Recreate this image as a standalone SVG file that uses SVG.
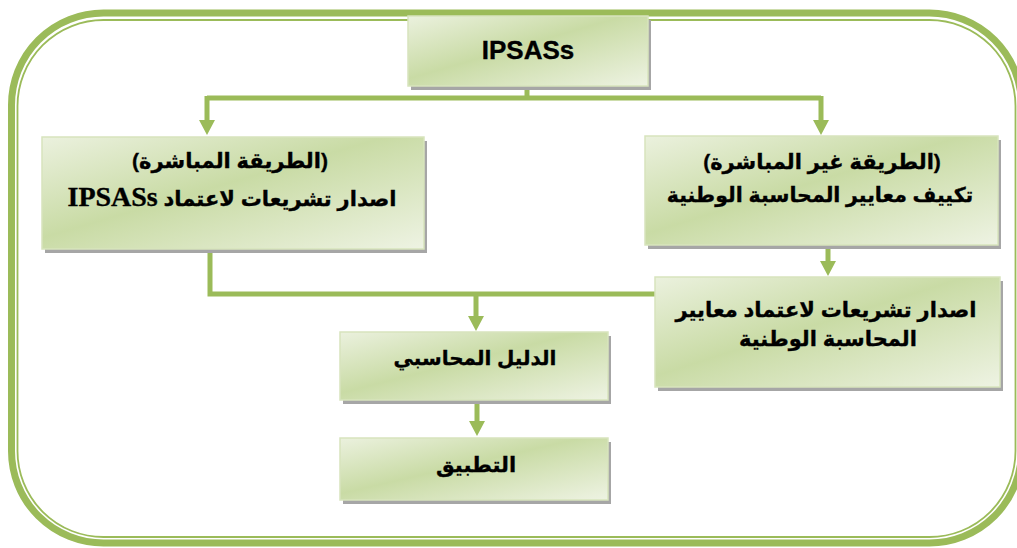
<svg xmlns="http://www.w3.org/2000/svg" width="1017" height="548" viewBox="0 0 1017 548">
<defs>
<linearGradient id="g" x1="0" y1="0" x2="1" y2="1">
<stop offset="0" stop-color="#ebf1de"/>
<stop offset="0.45" stop-color="#c9dba5"/>
<stop offset="1" stop-color="#eef3e3"/>
</linearGradient>
</defs>
<style>
.frame{fill:none;stroke:#9bbb59}
.box{fill:url(#g);stroke:#d7e4bd;stroke-width:1.5}
.sh{fill:#a6a6a6}
.ln{fill:none;stroke:#9bbb59;stroke-width:5}
.hd{fill:#9bbb59}
.t{font-family:"Liberation Sans","DejaVu Sans",sans-serif;font-weight:bold;font-size:21px;fill:#000;stroke:#000;stroke-width:0.35;text-anchor:middle}
.lat{font-family:"Liberation Serif",serif;font-size:28px}
</style>
<g id="frame">
<rect class="frame" x="11.5" y="13" width="1010" height="530" rx="92" stroke-width="7"/>
<rect class="frame" x="17.5" y="20" width="998" height="517" rx="86" stroke-width="1.8"/>
</g>
<g id="connectors">
<path class="ln" d="M527 86 V98 M207 98 H821 M207 96 V122 M821 96 V122"/>
<polygon class="hd" points="199,120 215,120 207,135"/>
<polygon class="hd" points="813,120 829,120 821,135"/>
<path class="ln" d="M210 250 V294 H657 M476 292 V318"/>
<polygon class="hd" points="468,316 484,316 476,331"/>
<path class="ln" d="M828 245 V263"/>
<polygon class="hd" points="820,261 836,261 828,276"/>
<path class="ln" d="M477 400 V423"/>
<polygon class="hd" points="469,421 485,421 477,436"/>
</g>
<g id="n-ipsass">
<rect class="sh" x="411" y="20" width="240" height="70"/>
<rect class="box" x="408" y="16" width="240" height="70"/>
<text class="t" x="528" y="59" style="font-size:26px">IPSASs</text>
</g>
<g id="n-direct">
<rect class="sh" x="45" y="141" width="382" height="112"/>
<rect class="box" x="42" y="137" width="382" height="112"/>
<text class="t" x="230" y="168" direction="rtl">(الطريقة المباشرة)</text>
<text class="t" x="232" y="206" direction="rtl">اصدار تشريعات لاعتماد <tspan class="lat">IPSASs</tspan></text>
</g>
<g id="n-indirect">
<rect class="sh" x="648" y="140" width="353" height="109"/>
<rect class="box" x="645" y="136" width="353" height="109"/>
<text class="t" x="822" y="169" direction="rtl">(الطريقة غير المباشرة)</text>
<text class="t" x="820" y="202" direction="rtl" style="font-size:20.5px">تكييف معايير المحاسبة الوطنية</text>
</g>
<g id="n-issue">
<rect class="sh" x="658" y="281" width="345" height="110"/>
<rect class="box" x="655" y="277" width="345" height="110"/>
<text class="t" x="826" y="317" direction="rtl">اصدار تشريعات لاعتماد معايير</text>
<text class="t" x="828" y="346" direction="rtl">المحاسبة الوطنية</text>
</g>
<g id="n-guide">
<rect class="sh" x="343" y="336" width="268" height="68"/>
<rect class="box" x="340" y="332" width="268" height="68"/>
<text class="t" x="475" y="365" direction="rtl" style="font-size:20px">الدليل المحاسبي</text>
</g>
<g id="n-apply">
<rect class="sh" x="343" y="442" width="268" height="62"/>
<rect class="box" x="340" y="438" width="268" height="62"/>
<text class="t" x="476" y="472" direction="rtl">التطبيق</text>
</g>
</svg>
